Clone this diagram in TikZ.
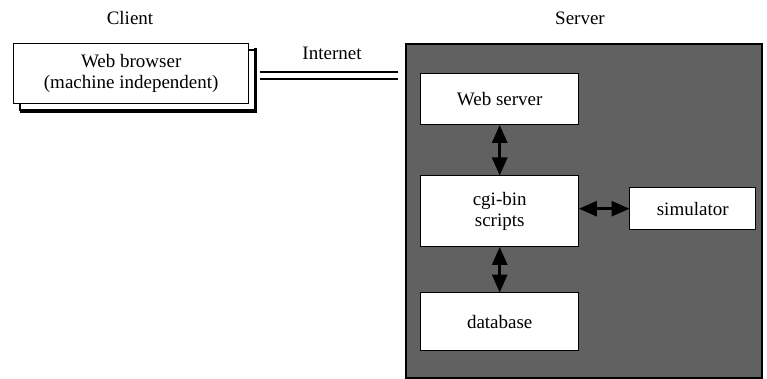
\documentclass[tikz,border=0pt]{standalone}
\usepackage{fontspec}
\setmainfont{Liberation Serif}
\usetikzlibrary{arrows.meta}
\begin{document}
\begin{tikzpicture}[x=1pt,y=-1pt,
  lbl/.style={font=\fontsize{19}{22}\selectfont, inner sep=0pt},
  wbox/.style={draw=black, line width=1.4pt, fill=white, inner sep=0pt, font=\fontsize{19}{21}\selectfont, align=center},
  dblarrow/.style={line width=2.8pt, {Triangle[width=15pt,length=18pt]}-{Triangle[width=15pt,length=18pt]}, shorten <=-0.5pt, shorten >=-0.5pt},
  inet/.style={line width=1.1pt}]
\useasboundingbox (0,0) rectangle (767,379);
% labels
\node[lbl] (client) at (130,18) {Client};
\node[lbl] (server) at (580,18) {Server};
\node[lbl] (internet) at (332,53) {Internet};
% client browser with offset back frame
\draw[line width=1.1pt] (20,50) rectangle (255,110);
\draw[line width=3pt] (255,48) -- (255,111.5) -- (20,111.5);
\node[wbox, minimum width=235pt, minimum height=60pt, anchor=north west] (browser) at (13,43) {Web browser\\(machine independent)};
% internet double line
\coordinate (i1a) at (260,72);
\coordinate (i1b) at (398,72);
\coordinate (i2a) at (260,79);
\coordinate (i2b) at (398,79);
\draw[inet] (i1a) -- (i1b);
\draw[inet] (i2a) -- (i2b);
% server frame
\node[draw=black, line width=2pt, fill=black!62, minimum width=356pt, minimum height=334pt, anchor=north west, inner sep=0pt] (srv) at (405,43) {};
% inner boxes
\node[wbox, minimum width=158pt, minimum height=51pt, anchor=north west] (web) at (420,73) {Web server};
\node[wbox, minimum width=158pt, minimum height=71pt, anchor=north west] (cgi) at (420,175) {cgi-bin\\scripts};
\node[wbox, minimum width=158pt, minimum height=58pt, anchor=north west] (db) at (420,292) {database};
\node[wbox, minimum width=126pt, minimum height=42pt, anchor=north west] (sim) at (629,187) {simulator};
% arrows
\draw[dblarrow] (web.south) -- (cgi.north);
\draw[dblarrow] (cgi.south) -- (db.north);
\draw[dblarrow] (cgi.east |- sim.west) -- (sim.west);
\end{tikzpicture}
\end{document}
